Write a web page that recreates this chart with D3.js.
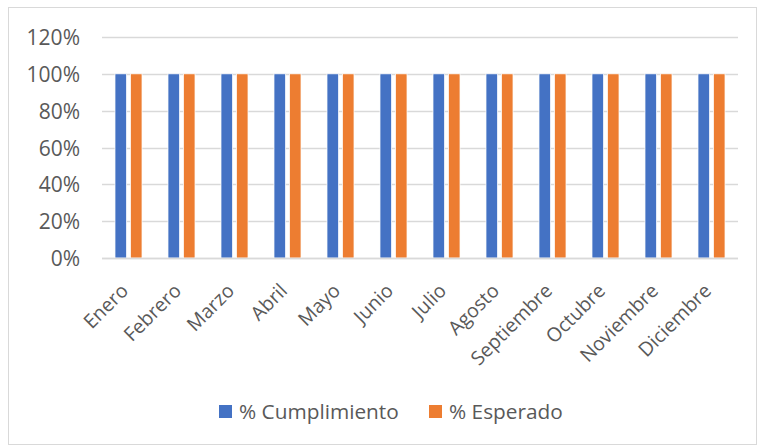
<!DOCTYPE html>
<html>
<head>
<meta charset="utf-8">
<script src="https://cdn.jsdelivr.net/npm/d3@7"></script>
<style>
  html, body { margin: 0; padding: 0; background: #fff; }
  svg { display: block; }
  text { font-family: "Open Sans", "Noto Sans", sans-serif; fill: #595959; }
</style>
</head>
<body>
<div id="chart"></div>
<script>
// Monthly compliance vs. expected target
const months = ["Enero", "Febrero", "Marzo", "Abril", "Mayo", "Junio", "Julio",
                "Agosto", "Septiembre", "Octubre", "Noviembre", "Diciembre"];
const seriesNames = ["% Cumplimiento", "% Esperado"];
const cumplimiento = [1, 1, 1, 1, 1, 1, 1, 1, 1, 1, 1, 1];
const esperado = [1, 1, 1, 1, 1, 1, 1, 1, 1, 1, 1, 1];
const yTicks = [0, 0.2, 0.4, 0.6, 0.8, 1.0, 1.2];
const colors = ["#4472C4", "#ED7D31"];

const W = 757, H = 446;
const plot = { left: 102, right: 738, top: 37, bottom: 258 };
const FONT = "\"Open Sans\", \"Noto Sans\", sans-serif";

const svg = d3.select("#chart").append("svg")
  .attr("width", W).attr("height", H);

// chart frame
svg.append("rect")
  .attr("x", 8.5).attr("y", 7.5)
  .attr("width", W - 9).attr("height", H - 9)
  .attr("fill", "#fff").attr("stroke", "#d9d9d9").attr("stroke-width", 1);

const x0 = d3.scaleBand().domain(months).range([plot.left, plot.right]).padding(0);
const x1 = d3.scaleBand().domain(seriesNames)
  .range([x0.bandwidth() * 0.245, x0.bandwidth() * 0.755]).paddingInner(0.25);
const y = d3.scaleLinear().domain([0, 1.2]).range([plot.bottom, plot.top]);

// horizontal gridlines
svg.append("g")
  .selectAll("line").data(yTicks).join("line")
  .attr("x1", plot.left).attr("x2", plot.right)
  .attr("y1", d => Math.round(y(d)) + 0.5).attr("y2", d => Math.round(y(d)) + 0.5)
  .attr("stroke", "#d9d9d9").attr("stroke-width", 1.3);

// y axis labels
const yAxis = d3.axisLeft(y).tickValues(yTicks)
  .tickFormat(d => Math.round(d * 100) + "%").tickSize(0).tickPadding(0);
const gy = svg.append("g").attr("transform", `translate(${plot.left - 22},0)`).call(yAxis);
gy.select(".domain").remove();
gy.selectAll("text").style("font-size", "21px").attr("fill", "#595959").attr("dy", "0.36em")
  .style("font-family", FONT);

// bars
const rows = months.map((m, i) => ({ month: m, values: [cumplimiento[i], esperado[i]] }));
const groups = svg.append("g").selectAll("g").data(rows).join("g")
  .attr("transform", d => `translate(${x0(d.month)},0)`);
groups.selectAll("rect")
  .data(d => d.values.map((v, k) => ({ key: seriesNames[k], value: v, k })))
  .join("rect")
  .attr("x", d => x1(d.key))
  .attr("width", x1.bandwidth())
  .attr("y", d => y(d.value))
  .attr("height", d => y(0) - y(d.value))
  .attr("fill", d => colors[d.k])
  .attr("stroke", "#fff").attr("stroke-width", 0.75);

// baseline
svg.append("line")
  .attr("x1", plot.left).attr("x2", plot.right)
  .attr("y1", plot.bottom + 0.5).attr("y2", plot.bottom + 0.5)
  .attr("stroke", "#d9d9d9").attr("stroke-width", 1.5);

// category labels, rotated
const xAxis = d3.axisBottom(x0).tickSize(0).tickPadding(0);
const gx = svg.append("g").attr("transform", `translate(0,${plot.bottom})`).call(xAxis);
gx.select(".domain").remove();
gx.selectAll("text")
  .style("font-size", "19.5px").attr("fill", "#595959")
  .style("font-family", FONT)
  .attr("text-anchor", "end")
  .attr("dy", null).attr("y", 0)
  .attr("transform", "translate(1,34) rotate(-45)");

// legend
const legend = svg.append("g");
const legendX = [219, 429];
seriesNames.forEach((name, k) => {
  legend.append("rect")
    .attr("x", legendX[k]).attr("y", 405)
    .attr("width", 13).attr("height", 13)
    .attr("fill", colors[k]);
  legend.append("text")
    .attr("x", legendX[k] + 20).attr("y", 419)
    .style("font-size", "20.8px")
    .text(name);
});
</script>
</body>
</html>
